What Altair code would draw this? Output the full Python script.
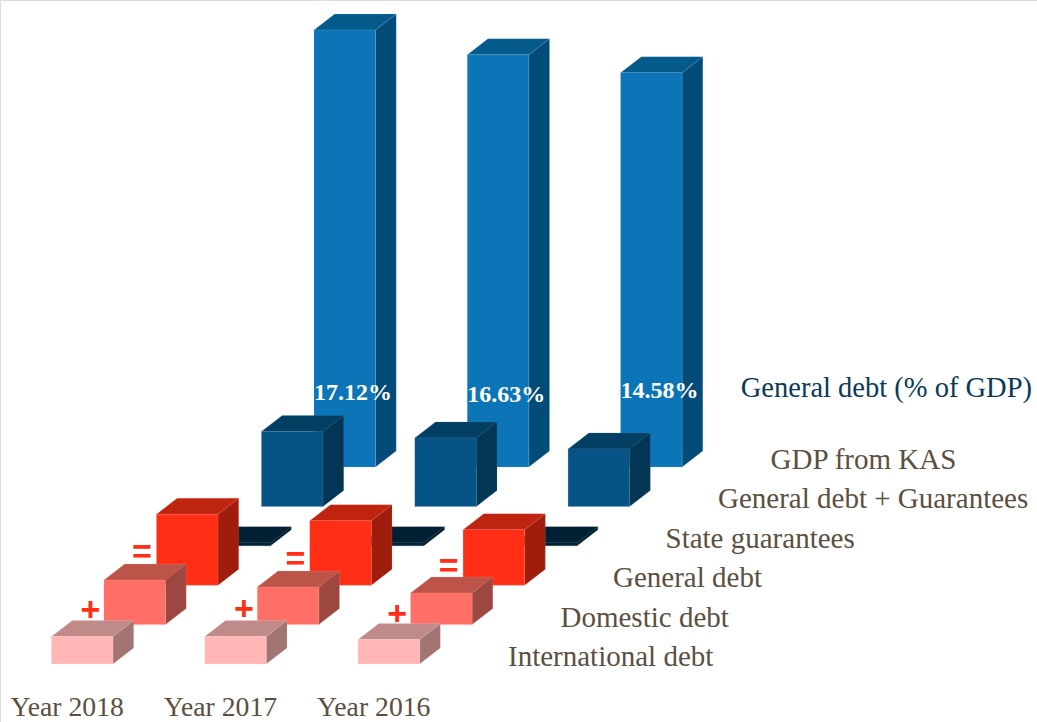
import altair as alt
import numpy as np
import pandas as pd

# Values shown on the tallest bars, and the years along the front edge
years = ["Year 2018", "Year 2017", "Year 2016"]
debt_pct = [17.12, 16.63, 14.58]

# Bar heights per series (chart units), listed front row to back row
international_debt = [27.5, 27.5, 24.5]
domestic_debt = [44.5, 37.5, 31.5]
general_debt = [71.0, 64.5, 55.5]
state_guarantees = [3.0, 3.0, 3.0]
debt_and_guarantees = [75.0, 68.5, 57.5]

series_names = [
    "International debt",
    "Domestic debt",
    "General debt",
    "State guarantees",
    "General debt + Guarantees",
    "GDP from KAS",
]

# The published bars do not scale linearly with the percentages,
# so the percent-to-height mapping is piecewise
pct_knots = [14.58, 16.63, 17.12]
height_knots = [394.3, 412.3, 437.0]
pct_heights = list(np.interp(debt_pct, pct_knots, height_knots))

# Oblique projection of the (year, row) grid onto the page
W, H = 1037, 722
COLUMN_STEP = 153.3
ROW_STEP_X, ROW_STEP_Y = 52.5, 39.4
ORIGIN_X, ORIGIN_Y = 51.5, 58.0
BAR_W, DEPTH_X, DEPTH_Y = 61.5, 20.7, 16.0

# front, top and side colours, edge colour, per row
rows = [
    (international_debt, "#FFB6B4", "#BF8A87", "#A27472", "#FFD0CE"),
    (domestic_debt, "#FF6F65", "#BC5449", "#9C473F", "#FF9A92"),
    (general_debt, "#FF2E15", "#BE2410", "#A01C0D", "#FF7E6E"),
    (state_guarantees, "#012033", "#012033", "#012033", "#012033"),
    (debt_and_guarantees, "#055485", "#033F63", "#033655", "#4F86A8"),
    (pct_heights, "#0B75B8", "#055A8C", "#034C79", "#7FB4D8"),
]

x_scale = alt.Scale(domain=[0, W], nice=False, zero=False)
y_scale = alt.Scale(domain=[0, H], nice=False, zero=False)
X = alt.X("x:Q", scale=x_scale, axis=None)
Y = alt.Y("y:Q", scale=y_scale, axis=None)


def bar_layers(row, heights, front, top, side, edge):
    front_rows, top_rows, side_rows = [], [], []
    base = ORIGIN_Y + ROW_STEP_Y * row
    for col, h in enumerate(heights):
        left = ORIGIN_X + ROW_STEP_X * row + COLUMN_STEP * col
        right = left + BAR_W
        front_rows.append(dict(x=left, x2=right, y=base, y2=base + h))
        top_rows += [
            dict(col=col, y=base + h, x=left, x2=right),
            dict(col=col, y=base + h + DEPTH_Y, x=left + DEPTH_X, x2=right + DEPTH_X),
        ]
        side_rows += [
            dict(col=col, x=right, y=base, y2=base + h),
            dict(col=col, x=right + DEPTH_X, y=base + DEPTH_Y, y2=base + h + DEPTH_Y),
        ]
    style = dict(stroke=edge, strokeWidth=0.5, strokeOpacity=0.4)
    top_face = (
        alt.Chart(pd.DataFrame(top_rows))
        .mark_area(orient="horizontal", color=top, **style)
        .encode(x=X, x2="x2:Q", y=Y, detail="col:N")
    )
    side_face = (
        alt.Chart(pd.DataFrame(side_rows))
        .mark_area(orient="vertical", color=side, **style)
        .encode(x=X, y=Y, y2="y2:Q", detail="col:N")
    )
    front_face = (
        alt.Chart(pd.DataFrame(front_rows))
        .mark_rect(color=front, **style)
        .encode(x=X, x2="x2:Q", y=Y, y2="y2:Q")
    )
    return [top_face, side_face, front_face]


def text_layer(table, font="Liberation Serif", **mark):
    return (
        alt.Chart(pd.DataFrame(table))
        .mark_text(font=font, baseline="middle", **mark)
        .encode(x=X, y=Y, text="label:N")
    )


# Painted from the back row forward so nearer bars overlap farther ones
layers = []
for row in reversed(range(len(rows))):
    heights, front, top, side, edge = rows[row]
    layers += bar_layers(row, heights, front, top, side, edge)

# Percentages on the tall bars
layers.append(
    text_layer(
        [
            dict(label=f"{p:.2f}%", x=353 + COLUMN_STEP * i, y=H - y)
            for i, (p, y) in enumerate(zip(debt_pct, [393, 395, 391]))
        ],
        align="center",
        fontSize=24,
        fontWeight="bold",
        color="#FFFFFF",
    )
)

# Plus and equals signs linking the rows
layers.append(
    text_layer(
        [dict(label="=", x=142 + COLUMN_STEP * i, y=H - y) for i, y in enumerate([553, 560, 567])]
        + [dict(label="+", x=90.5 + COLUMN_STEP * i, y=H - y) for i, y in enumerate([611, 610, 615])],
        font="Liberation Sans",
        align="center",
        fontSize=34,
        fontWeight="bold",
        color="#FF2E15",
    )
)

# Series names follow the same diagonal as the rows
layers.append(
    text_layer(
        [
            dict(label=name, x=508 + ROW_STEP_X * r, y=H - 657 + ROW_STEP_Y * r)
            for r, name in enumerate(series_names)
        ],
        align="left",
        fontSize=29,
        color="#5C4F3F",
    )
)
layers.append(
    text_layer(
        [dict(label="General debt (% of GDP)", x=1032, y=H - 388)],
        align="right",
        fontSize=28.5,
        color="#0A3A5A",
    )
)

# Year names under the front row
layers.append(
    text_layer(
        [dict(label=y, x=10.5 + COLUMN_STEP * i, y=H - 708) for i, y in enumerate(years)],
        align="left",
        fontSize=27.7,
        color="#5C4F3F",
    )
)

chart = (
    alt.layer(*layers)
    .properties(width=W, height=H, padding=0, autosize=alt.AutoSizeParams(type="none"))
    .configure_view(stroke=None)
    .configure(background="#FFFFFF")
)

chart.save("out.html", embed_options={"renderer": "svg", "actions": False})
